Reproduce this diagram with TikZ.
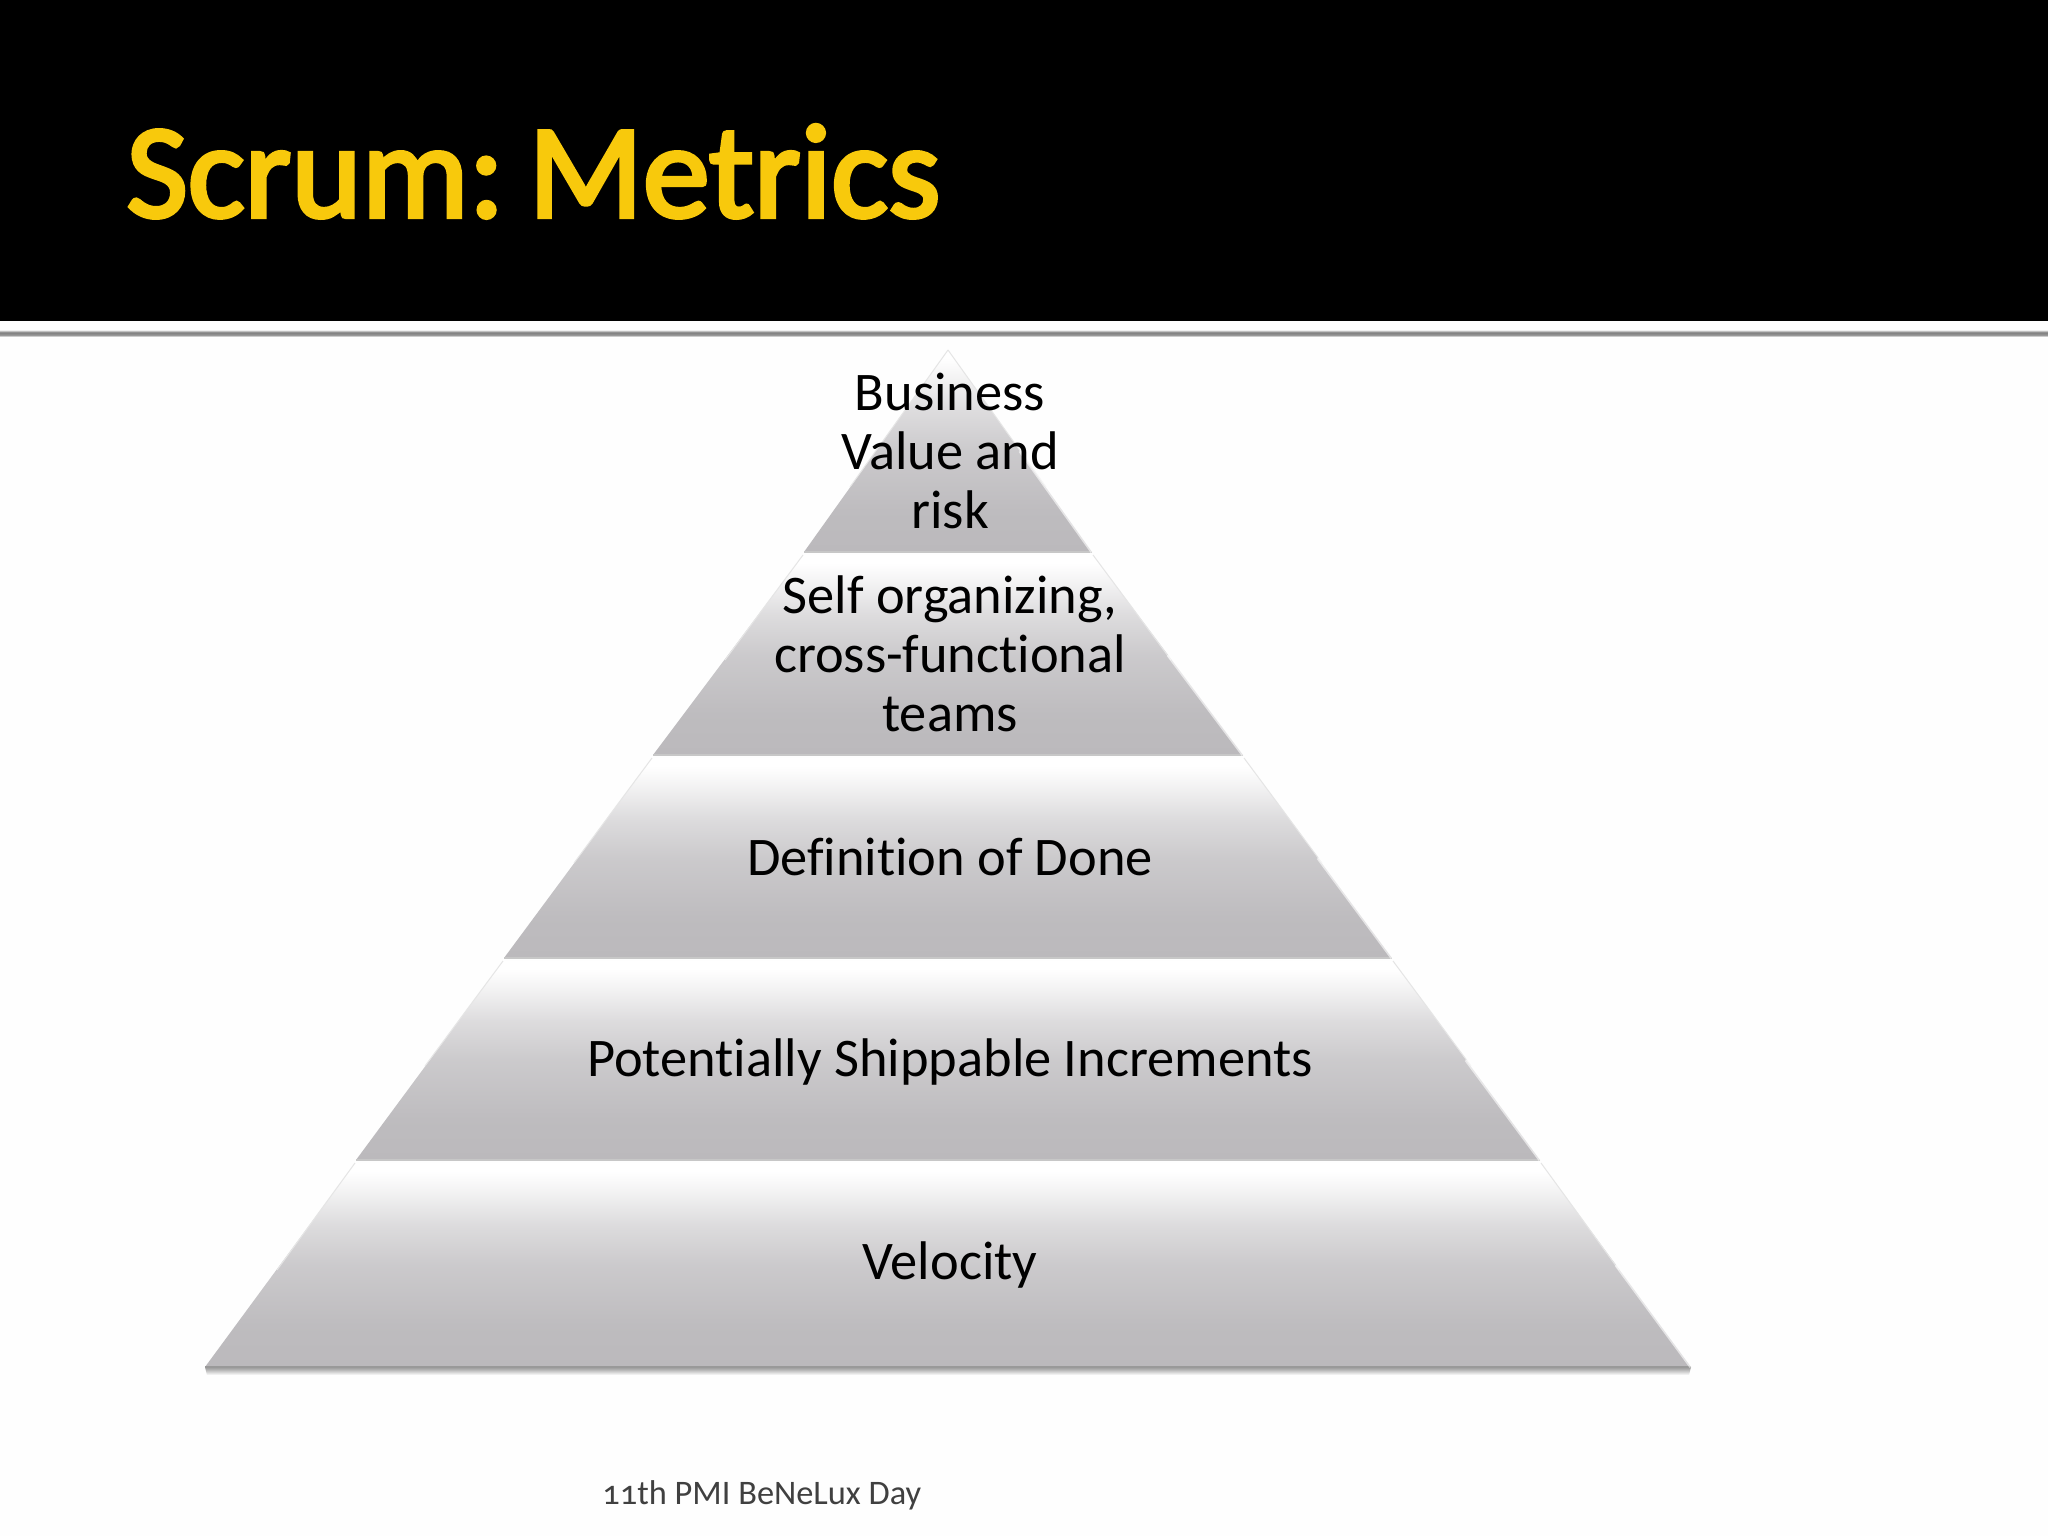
\documentclass[tikz,border=0pt]{standalone}
\usepackage{fontspec}
\setmainfont{Carlito}[Numbers=OldStyle,Ligatures=NoCommon]
\newfontfamily\titlefont{Carlito}[FakeBold=3,WordSpace=0.45]
\definecolor{pagebg}{HTML}{FEFEFE}
\definecolor{titlegold}{HTML}{F8C90C}
\definecolor{tierlow}{HTML}{BBB9BC}
\definecolor{footgray}{HTML}{404040}
\pgfdeclareverticalshading{tiershade}{100bp}{
 color(0bp)=(tierlow);
 color(25bp)=(tierlow);
 color(35bp)=(tierlow!96!white);
 color(50bp)=(tierlow!76!white);
 color(60bp)=(tierlow!50!white);
 color(68bp)=(tierlow!18!white);
 color(73bp)=(white);
 color(100bp)=(white)}
\pgfdeclareverticalshading{ruleshade}{100bp}{
 color(0bp)=(white);
 color(25bp)=(white);
 color(40bp)=(black!42);
 color(58bp)=(black!50);
 color(75bp)=(black!6);
 color(100bp)=(black!6)}
\pgfdeclareverticalshading{dropshade}{100bp}{
 color(0bp)=(pagebg);
 color(25bp)=(pagebg);
 color(60bp)=(black!30);
 color(75bp)=(black!40);
 color(100bp)=(black!40)}
\tikzset{
 x=0.5pt,y=-0.5pt,
 tier/.style={shading=tiershade},
 bevel/.style={draw=white,opacity=0.6,line width=1.6pt,line cap=butt},
 paleedge/.style={draw=black!10,line width=0.5pt},
 tierline/.style={draw=black!22,line width=0.6pt},
 tiertext/.style={align=center,inner sep=0pt,text=black,font=\fontsize{27.2}{29.6}\selectfont},
}
\begin{document}
\begin{tikzpicture}
\useasboundingbox (0,0) rectangle (2048,1536);
\fill[pagebg] (0,0) rectangle (2048,1536);
% header
\fill[black] (0,0) rectangle (2048,321);
\shade[shading=ruleshade] (0,330) rectangle (2048,337);
\node[anchor=base west,inner sep=0pt,text=titlegold,font=\fontsize{67}{80}\titlefont] (title) at (126,217) {Scrum: Metrics};
% drop shadow of the base
\shade[shading=dropshade] (205,1367) -- (1691,1367) -- (1689,1375) -- (207,1375) -- cycle;
% tiers, top to bottom
\shade[tier] (948,350) -- (1092,552) -- (804,552) -- cycle;
\shade[tier] (803,555) -- (1093,555) -- (1243,755) -- (653,755) -- cycle;
\shade[tier] (652,758) -- (1244,758) -- (1392,958) -- (504,958) -- cycle;
\shade[tier] (503,961) -- (1393,961) -- (1540,1160) -- (356,1160) -- cycle;
\shade[tier] (355,1163) -- (1541,1163) -- (1691,1367) -- (205,1367) -- cycle;
% pale upper side edges
\draw[paleedge] (948,350) -- (850,487);
\draw[paleedge] (948,350) -- (1046,487);
\draw[paleedge] (803,555) -- (725,660);
\draw[paleedge] (1093,555) -- (1171,660);
\draw[paleedge] (652,758) -- (574,863);
\draw[paleedge] (1244,758) -- (1322,863);
\draw[paleedge] (503,961) -- (425,1066);
\draw[paleedge] (1393,961) -- (1471,1066);
\draw[paleedge] (355,1163) -- (277,1270);
\draw[paleedge] (1541,1163) -- (1619,1270);
% bottom edges
\draw[tierline] (804,552) -- (1092,552);
\draw[tierline] (653,755) -- (1243,755);
\draw[tierline] (504,958) -- (1392,958);
\draw[tierline] (356,1160) -- (1540,1160);
\draw[draw=black!40,line width=1pt] (205,1367) -- (1691,1367);
% right bevels
\draw[bevel] (1020,451) -- (1092,552);
\draw[bevel] (1168,655) -- (1243,755);
\draw[bevel] (1318,858) -- (1392,958);
\draw[bevel] (1466,1060) -- (1540,1160);
\draw[bevel] (1616,1265) -- (1691,1367);
% labels
\node[tiertext] (t1) at (950,451) {Business\\Value and\\risk};
\node[tiertext] (t2) at (950,654) {Self organizing,\\cross-functional\\teams};
\node[tiertext] (t3) at (950,857) {Definition of Done};
\node[tiertext] (t4) at (950,1062) {Potentially Shippable Increments};
\node[tiertext] (t5) at (950,1265) {Velocity};
\node[anchor=base west,inner sep=0pt,text=footgray,font=\fontsize{17.2}{20}\selectfont] (foot) at (602,1504) {11th PMI BeNeLux Day};
\end{tikzpicture}
\end{document}
